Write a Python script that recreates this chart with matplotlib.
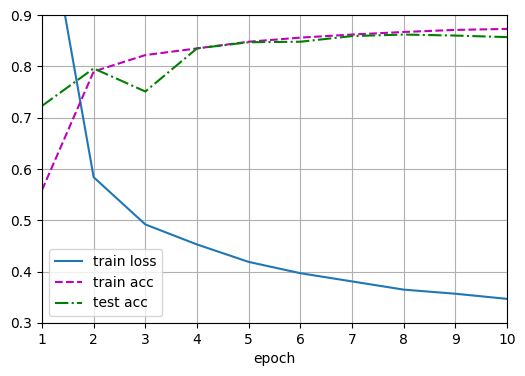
import matplotlib
matplotlib.use('Agg')
import matplotlib.pyplot as plt

epochs = [1, 2, 3, 4, 5, 6, 7, 8, 9, 10]
train_loss = [1.153, 0.584, 0.492, 0.453, 0.419, 0.397, 0.381, 0.365, 0.357, 0.347]
train_acc = [0.559, 0.790, 0.822, 0.835, 0.848, 0.856, 0.862, 0.867, 0.871, 0.873]
test_acc = [0.723, 0.796, 0.751, 0.835, 0.847, 0.848, 0.859, 0.862, 0.860, 0.857]

fig = plt.figure(figsize=(5.25, 3.76), dpi=100)
ax = fig.add_axes([0.08, 0.141, 0.8857, 0.819])

ax.plot(epochs, train_loss, '-', color='C0', label='train loss')
ax.plot(epochs, train_acc, 'm--', label='train acc')
ax.plot(epochs, test_acc, 'g-.', label='test acc')

ax.set_xlim(1, 10)
ax.set_ylim(0.3, 0.9)
ax.set_xticks(epochs)
ax.set_xlabel('epoch')
ax.grid(True)
ax.legend(loc='lower left')

fig.savefig('out.png', dpi=100)
